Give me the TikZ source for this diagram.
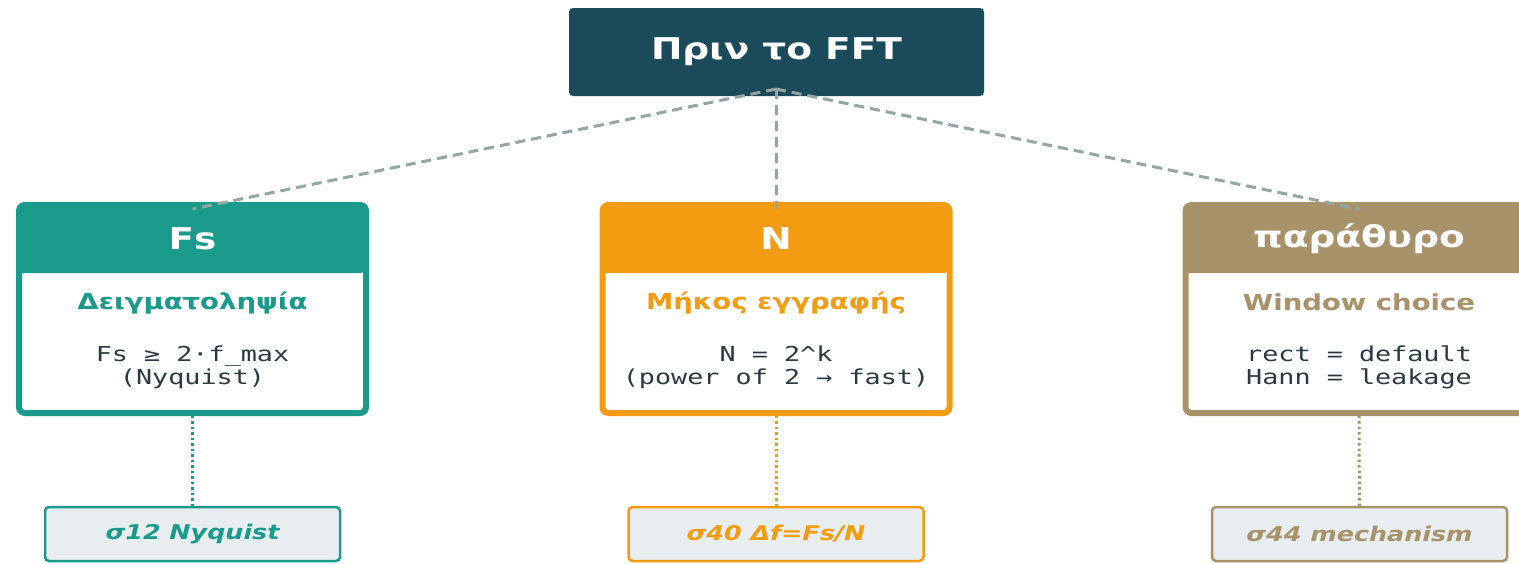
\documentclass[tikz,border=0pt]{standalone}
\usepackage{fontspec}
\setmainfont{DejaVu Sans}[FakeStretch=1.25]
\setmonofont{DejaVu Sans Mono}[FakeStretch=1.3]
\definecolor{topblue}{HTML}{1B4A5A}
\definecolor{fsteal}{HTML}{1A9A8A}
\definecolor{norange}{HTML}{F39C12}
\definecolor{wintan}{HTML}{A8926A}
\definecolor{linkgray}{HTML}{95A5A6}
\definecolor{reffill}{HTML}{E8EDF0}
\definecolor{codeink}{HTML}{2B3A42}
\begin{document}
\begin{tikzpicture}[
                  x=1pt, y=-1pt,
                  card/.style={draw=#1, line width=6pt, fill=white, rounded corners=6pt,
                    minimum width=347pt, minimum height=208pt, inner sep=0pt, outer sep=0pt},
                  headtxt/.style={text=white, font=\fontsize{30}{36}\selectfont\bfseries},
                  subtxt/.style={text=#1, font=\fontsize{22}{26}\selectfont\bfseries},
                  codetxt/.style={text=codeink, align=center, font=\fontsize{20.6}{23}\selectfont\ttfamily},
                  refbox/.style={draw=#1, line width=2.5pt, fill=reffill, rounded corners=4pt,
                    minimum width=295pt, minimum height=54pt, text=#1,
                    font=\fontsize{20.3}{24}\selectfont\bfseries\itshape},
                  link/.style={draw=linkgray, line width=3pt, dash pattern=on 10pt off 6pt},
                  reflink/.style={draw=#1, line width=3pt, dash pattern=on 2.5pt off 3pt}
                ]
                  \useasboundingbox (0,0) rectangle (1519,563);
                  % root
                  \node[fill=topblue, rounded corners=4pt, minimum width=415pt, minimum height=88pt,
                    headtxt] (root) at (776.5,52) {Πριν το FFT};
                  \coordinate (fork) at (776,89);
                  % cards
                  \foreach \name/\cx/\col in {fs/192.5/fsteal, n/776/norange, win/1359/wintan} {
                    \node[card=\col] (\name) at (\cx,309) {};
                    \fill[\col] ([yshift=-68pt]\name.north west) [rounded corners=6pt] |- (\name.north)
                      -| ([yshift=-68pt]\name.north east) [sharp corners] -- cycle;
                    \coordinate (\name top) at ([yshift=-4pt]\name.north);
                    \coordinate (\name bot) at ([yshift=3pt]\name.south);
                  }
                  \node[headtxt] (fshead) at ([yshift=-34pt]fs.north) {Fs};
                  \node[headtxt] (nhead) at ([yshift=-34pt]n.north) {N};
                  \node[headtxt] (winhead) at ([yshift=-34pt]win.north) {παράθυρο};
                  \node[subtxt=fsteal] (fssub) at ([yshift=-97.5pt]fs.north) {Δειγματοληψία};
                  \node[subtxt=norange] (nsub) at ([yshift=-97.5pt]n.north) {Μήκος εγγραφής};
                  \node[subtxt=wintan] (winsub) at ([yshift=-97.5pt]win.north) {Window choice};
                  \node[codetxt] (fscode) at ([yshift=-162.5pt]fs.north) {Fs ≥ 2·f\_max\\(Nyquist)};
                  \node[codetxt] (ncode) at ([yshift=-162.5pt]n.north) {N = 2\^{}k\\(power of 2 → fast)};
                  \node[codetxt] (wincode) at ([yshift=-162.5pt]win.north) {rect = default\\Hann = leakage};
                  % references
                  \node[refbox=fsteal] (fsref) at (192.5,534) {σ12 Nyquist};
                  \node[refbox=norange] (nref) at (776,534) {σ40 Δf=Fs/N};
                  \node[refbox=wintan] (winref) at (1359.5,534) {σ44 mechanism};
                  % links
                  \draw[link] (fork) -- (fstop);
                  \draw[link] (fork) -- (ntop);
                  \draw[link] (fork) -- (wintop);
                  \draw[reflink=fsteal] (fsbot) -- (fsref);
                  \draw[reflink=norange] (nbot) -- (nref);
                  \draw[reflink=wintan] (winbot) -- (winref);
                \end{tikzpicture}
\end{document}
